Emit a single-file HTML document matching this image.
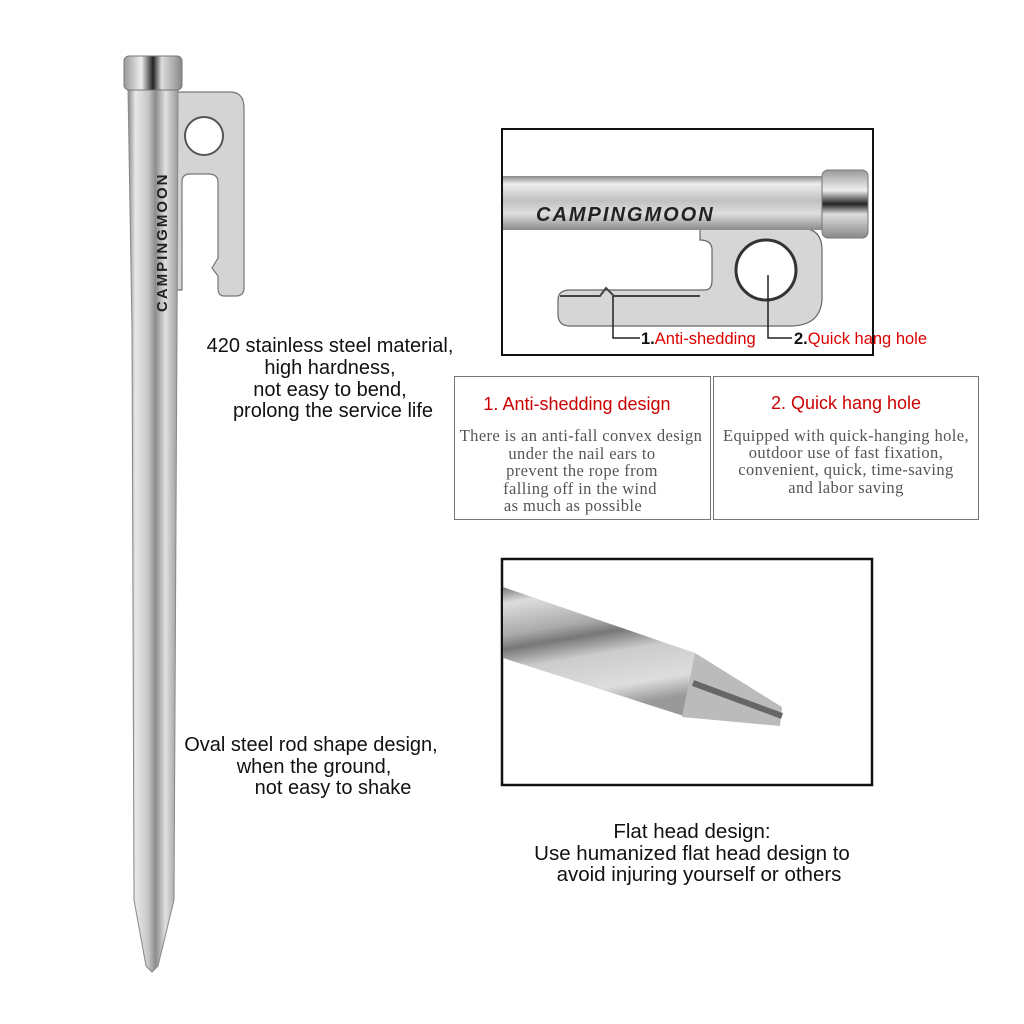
<!DOCTYPE html>
<html><head><meta charset="utf-8"><style>
html,body{margin:0;padding:0;background:#fff;}
svg{display:block}
</style></head><body>
<svg width="1024" height="1024" viewBox="0 0 1024 1024" xmlns="http://www.w3.org/2000/svg" font-family="Liberation Sans, sans-serif">
<defs>
<linearGradient id="sh" x1="0" x2="1" y1="0" y2="0">
<stop offset="0" stop-color="#8a8a8a"/><stop offset="0.15" stop-color="#e8e8e8"/><stop offset="0.4" stop-color="#c8c8c8"/><stop offset="0.55" stop-color="#8c8c8c"/><stop offset="0.75" stop-color="#e0e0e0"/><stop offset="1" stop-color="#9a9a9a"/>
</linearGradient>
<linearGradient id="cap" x1="0" x2="1"><stop offset="0" stop-color="#999"/><stop offset="0.3" stop-color="#eee"/><stop offset="0.5" stop-color="#222"/><stop offset="0.65" stop-color="#ddd"/><stop offset="1" stop-color="#888"/></linearGradient>
<linearGradient id="hr" x1="0" x2="0" y1="0" y2="1">
<stop offset="0" stop-color="#888"/><stop offset="0.15" stop-color="#eee"/><stop offset="0.45" stop-color="#c0c0c0"/><stop offset="0.7" stop-color="#dedede"/><stop offset="1" stop-color="#8a8a8a"/>
</linearGradient>
<linearGradient id="capv" x1="0" x2="0" y1="0" y2="1"><stop offset="0" stop-color="#999"/><stop offset="0.3" stop-color="#eee"/><stop offset="0.5" stop-color="#222"/><stop offset="0.65" stop-color="#ddd"/><stop offset="1" stop-color="#888"/></linearGradient>
<linearGradient id="diag" x1="0" y1="0" x2="0.25" y2="1">
<stop offset="0" stop-color="#777"/><stop offset="0.12" stop-color="#ddd"/><stop offset="0.35" stop-color="#aaa"/><stop offset="0.45" stop-color="#777"/><stop offset="0.6" stop-color="#ccc"/><stop offset="0.85" stop-color="#ddd"/><stop offset="1" stop-color="#999"/>
</linearGradient>
</defs>
<!-- main peg -->
<path d="M176 92 L230 92 Q244 92 244 108 L244 288 Q244 296 236 296 L224 296 Q218 296 218 288 L218 276 L212 268 L218 258 L218 182 Q218 174 208 174 L190 174 Q182 174 182 182 L182 290 L176 290 Z" fill="#d4d4d4" stroke="#777" stroke-width="1.2"/>
<circle cx="204" cy="136" r="19" fill="#fff" stroke="#555" stroke-width="2"/>
<path d="M128 88 L178 88 L177 330 L174 900 L158 966 L152 972 L146 966 L134 900 L132 330 Z" fill="url(#sh)" stroke="#888" stroke-width="1"/>
<rect x="124" y="56" width="58" height="34" rx="5" fill="url(#cap)" stroke="#777"/>
<text transform="translate(167,312) rotate(-90)" font-size="15" font-weight="bold" letter-spacing="2" fill="#222">CAMPINGMOON</text>
<!-- left texts -->
<g font-size="20" fill="#111" text-anchor="middle">
<text x="330" y="352">420 stainless steel material,</text>
<text x="330" y="374">high hardness,</text>
<text x="330" y="396">not easy to bend,</text>
<text x="333" y="417">prolong the service life</text>
<text x="311" y="751">Oval steel rod shape design,</text>
<text x="314" y="773">when the ground,</text>
<text x="333" y="794">not easy to shake</text>
</g>
<g font-size="20.5" fill="#111" text-anchor="middle">
<text x="692" y="838">Flat head design:</text>
<text x="692" y="860">Use humanized flat head design to</text>
<text x="699" y="881">avoid injuring yourself or others</text>
</g>
<!-- box 1 -->
<rect x="502" y="129" width="371" height="226" fill="#fff" stroke="#111" stroke-width="2"/>
<path d="M700 228 L800 228 Q822 228 822 250 L822 300 Q820 326 790 326 L570 326 Q558 326 558 314 L558 300 Q558 290 570 290 L705 290 Q712 290 712 280 L712 250 Q712 240 700 240 Z" fill="#d6d6d6" stroke="#666" stroke-width="1.2"/>
<path d="M560 296 L600 296 L606 288 L614 296 L700 296" fill="none" stroke="#444" stroke-width="2"/>
<rect x="503" y="176" width="330" height="54" fill="url(#hr)"/>
<circle cx="766" cy="270" r="30" fill="#fff" stroke="#333" stroke-width="3"/>
<rect x="822" y="170" width="46" height="68" rx="6" fill="url(#capv)" stroke="#777"/>
<text x="536" y="221" font-size="20" font-weight="bold" font-style="italic" letter-spacing="2" fill="#222">CAMPINGMOON</text>
<path d="M613 296 L613 338 L640 338 M768 275 L768 338 L792 338" fill="none" stroke="#222" stroke-width="1.5"/>
<text x="641" y="344" font-size="16.5" font-weight="bold" fill="#111">1.<tspan font-weight="normal" fill="#d00">Anti-shedding</tspan></text>
<text x="794" y="344" font-size="16.5" font-weight="bold" fill="#111">2.<tspan font-weight="normal" fill="#d00">Quick hang hole</tspan></text>
<!-- info boxes -->
<rect x="454.5" y="376.5" width="256" height="143" fill="#fff" stroke="#777"/>
<rect x="713.5" y="376.5" width="265" height="143" fill="#fff" stroke="#777"/>
<g font-family="Liberation Serif, serif" text-anchor="middle">
<text x="577" y="410" font-size="18" fill="#c00" font-family="Liberation Sans, sans-serif">1. Anti-shedding design</text>
<g font-size="16.5" fill="#555" letter-spacing="0.4">
<text x="581" y="441">There is an anti-fall convex design</text>
<text x="582" y="459">under the nail ears to</text>
<text x="582" y="476">prevent the rope from</text>
<text x="580" y="494">falling off in the wind</text>
<text x="573" y="511">as much as possible</text>
<text x="846" y="441">Equipped with quick-hanging hole,</text>
<text x="846" y="458">outdoor use of fast fixation,</text>
<text x="846" y="475">convenient, quick, time-saving</text>
<text x="846" y="493">and labor saving</text>
</g>
<text x="846" y="409" font-size="18" fill="#c00" font-family="Liberation Sans, sans-serif">2. Quick hang hole</text>
</g>
<!-- box 3 -->
<rect x="502" y="559" width="370" height="226" fill="#fff" stroke="#111" stroke-width="2.5"/>
<path d="M503 587 L695 653 L690 718 L503 658 Z" fill="url(#diag)"/>
<path d="M695 653 L782 707 L780 726 L682 717 Z" fill="#bbb"/>
<path d="M693 683 L782 716" stroke="#666" stroke-width="6" fill="none"/>
</svg>
</body></html>
